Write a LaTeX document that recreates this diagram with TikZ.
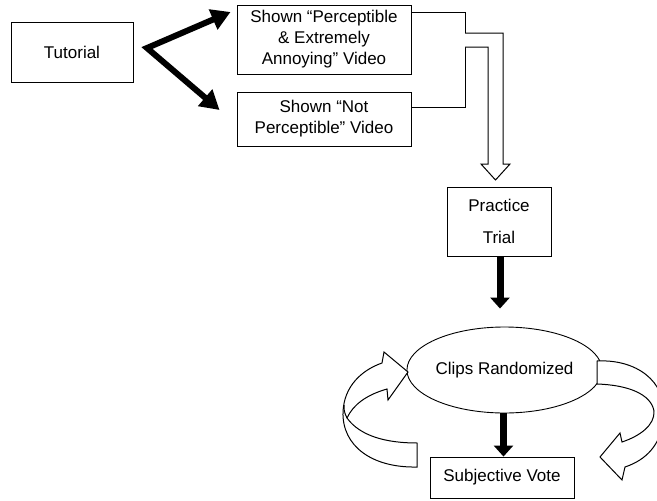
\documentclass[tikz,border=0pt]{standalone}
\usepackage{fontspec}
\setmainfont{Liberation Sans}
\usetikzlibrary{arrows.meta,calc,shapes.geometric}

\tikzset{
  box/.style={draw, line width=0.9pt, inner sep=0pt, align=center,
    font=\fontsize{17}{21}\selectfont},
  oval/.style={ellipse, draw, line width=0.9pt, inner sep=0pt,
    font=\fontsize{17}{21}\selectfont},
  fork/.style={line width=6pt, line join=miter,
    {Triangle[length=19pt,width=21pt]}-{Triangle[length=19pt,width=21pt]}},
  down/.style={line width=7pt, -{Triangle[length=11pt,width=19pt]}},
  wire/.style={line width=1pt},
  hollow/.style={draw, line width=1pt, fill=white, line join=miter},
}

\begin{document}
\begin{tikzpicture}[x=1pt, y=-1pt]
\clip (0,0) rectangle (657,501);
\fill[white] (0,0) rectangle (657,501);

% boxes
\node[box, minimum width=122pt, minimum height=60pt] (tut) at (72,52) {Tutorial};
\node[box, minimum width=174pt, minimum height=69pt] (pa) at (324,39.5)
  {Shown “Perceptible\\ \& Extremely\\ Annoying” Video};
\node[box, minimum width=174pt, minimum height=54pt] (np) at (324,119)
  {Shown “Not\\ Perceptible” Video};
\node[box, minimum width=104pt, minimum height=69pt] (pt) at (499,221.5)
  {Practice\\[11pt] Trial};
\node[oval, minimum width=167pt, minimum height=86pt] (cr) at (504.5,370)
  {Clips Randomized};
\node[box, minimum width=144pt, minimum height=41pt] (sv) at (502,477.5)
  {Subjective Vote};

% fork from the tutorial to the two video conditions
\coordinate (split) at (147,48);
\coordinate (tipA) at ($(pa.west)+(-6,-27.5)$);
\coordinate (tipB) at ($(np.west)+(-17,-9)$);
\draw[fork] (tipA) -- (split) -- (tipB);

% bracket joining the two conditions
\coordinate (join) at (465,0);
\coordinate (outA) at ($(pa.north east)+(0,8)$);
\coordinate (outB) at ($(np.north east)+(0,16)$);
\draw[wire] (outA) -- (outA -| join) -- (outB -| join) -- (outB);

% hollow block arrow down to the practice trial
\draw[hollow] (465,33) -- (503,33) -- (503,164) -- (510,164) -- (495.5,180)
  -- (481,164) -- (488,164) -- (488,47) -- (465,47);

% solid arrows down the chain
\draw[down, shorten >=18pt] ([xshift=1pt]pt.south) -- ([xshift=1pt]pt.south |- cr.north);
\draw[down] ([xshift=-1pt]cr.south) -- ([xshift=-1pt]cr.south |- sv.north);

% curved block arrow on the left, looping back up to the clips
\draw[hollow] (417,467) .. controls (372,468) and (342,446) .. (343,412)
  .. controls (344,386) and (362,370) .. (382,363)
  -- (384,352) -- (408,372) -- (388,400) -- (387,389)
  .. controls (366,395) and (353,405) .. (347,418)
  .. controls (360,436) and (386,443) .. (417,443) -- cycle;
\draw[wire] (347,418) .. controls (344,412) and (344,410) .. (344,405);

% curved block arrow on the right, looping down to the vote
\draw[hollow] (597,361) .. controls (635,359) and (667,380) .. (664,418)
  .. controls (661,445) and (646,460) .. (625,467)
  -- (622,480) -- (600,457) -- (620,433) -- (622,442)
  .. controls (640,436) and (655,425) .. (654,411)
  .. controls (651,394) and (628,385) .. (597,384) -- cycle;
\end{tikzpicture}
\end{document}
